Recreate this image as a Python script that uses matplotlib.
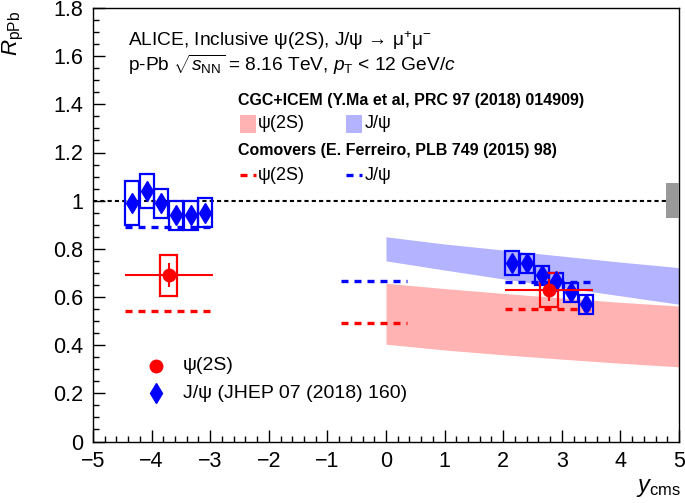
import matplotlib
matplotlib.use("Agg")
import matplotlib.pyplot as plt
from matplotlib.patches import Rectangle
from matplotlib.lines import Line2D
from matplotlib.ticker import MultipleLocator
import numpy as np

plt.rcParams['font.family'] = ['Liberation Sans', 'DejaVu Sans']
plt.rcParams['mathtext.fontset'] = 'custom'
plt.rcParams['mathtext.rm'] = 'Liberation Sans'
plt.rcParams['mathtext.it'] = 'Liberation Sans:italic'
plt.rcParams['mathtext.bf'] = 'Liberation Sans:bold'

# J/psi, backward rapidity (JHEP 07 (2018) 160)
jpsi_y_bwd = [-4.335, -4.085, -3.835, -3.585, -3.335, -3.085]
jpsi_r_bwd = [0.99, 1.04, 0.99, 0.94, 0.94, 0.95]
jpsi_stat_bwd = [0.02, 0.02, 0.02, 0.02, 0.02, 0.02]
jpsi_syst_bwd = [0.09, 0.07, 0.06, 0.06, 0.06, 0.06]

# J/psi, forward rapidity
jpsi_y_fwd = [2.155, 2.405, 2.655, 2.905, 3.155, 3.405]
jpsi_r_fwd = [0.74, 0.74, 0.69, 0.665, 0.62, 0.57]
jpsi_stat_fwd = [0.015, 0.015, 0.015, 0.015, 0.015, 0.015]
jpsi_syst_fwd = [0.05, 0.04, 0.04, 0.035, 0.04, 0.04]

# psi(2S), one bin backward and one forward
psi_y = [-3.71, 2.78]
psi_ylo = [-4.46, 2.03]
psi_yhi = [-2.96, 3.53]
psi_r = [0.69, 0.63]
psi_stat = [0.05, 0.045]
psi_syst = [0.085, 0.07]

# comovers (E. Ferreiro)
com_ylo = [-4.46, -0.76, 2.03]
com_yhi = [-2.96, 0.36, 3.53]
com_jpsi = [0.89, 0.667, 0.664]
com_psi = [0.54, 0.493, 0.55]

# CGC+ICEM bands (Y. Ma et al)
cgc_y = [0, 1, 2, 3, 4, 5]
cgc_jpsi_hi = [0.85, 0.82, 0.795, 0.77, 0.745, 0.722]
cgc_jpsi_lo = [0.75, 0.712, 0.675, 0.64, 0.605, 0.57]
cgc_psi_hi = [0.657, 0.635, 0.615, 0.596, 0.578, 0.5625]
cgc_psi_lo = [0.404, 0.38, 0.36, 0.342, 0.325, 0.31]

global_unc = 0.072

red = '#ff0000'
blue = '#0000ff'
red_band = '#ffb3b3'
blue_band = '#b3b3ff'

W, H = 685, 503
fig = plt.figure(figsize=(W / 100, H / 100), dpi=100)
ax = fig.add_axes([93 / W, 1 - 441.5 / H, 586 / W, 433.5 / H])


def fxy(px, py):
    # reference pixel -> figure fraction
    return px / W, 1 - py / H


# bands
ax.fill_between(cgc_y, cgc_psi_lo, cgc_psi_hi, color=red_band, lw=0, zorder=1)
ax.fill_between(cgc_y, cgc_jpsi_lo, cgc_jpsi_hi, color=blue_band, lw=0, zorder=1)

# unity line and global uncertainty
ax.axhline(1, color='black', lw=1.5, dashes=(2, 1.5), zorder=2)
ax.add_patch(Rectangle((4.78, 1 - global_unc), 0.22, 2 * global_unc,
                       color='#999999', lw=0, zorder=3))

# comovers
dash = (2.1, 1.8)
ax.hlines(com_jpsi, com_ylo, com_yhi, colors=blue, lw=2.4, linestyles=[(0, dash)], zorder=3)
ax.hlines(com_psi, com_ylo, com_yhi, colors=red, lw=2.4, linestyles=[(0, dash)], zorder=3)

# J/psi systematic boxes and points
for ys, rs, ss in [(jpsi_y_bwd, jpsi_r_bwd, jpsi_syst_bwd), (jpsi_y_fwd, jpsi_r_fwd, jpsi_syst_fwd)]:
    for y, r, s in zip(ys, rs, ss):
        ax.add_patch(Rectangle((y - 0.12, r - s), 0.24, 2 * s, fill=False,
                               ec=blue, lw=1.6, zorder=4))
ax.errorbar(jpsi_y_bwd + jpsi_y_fwd, jpsi_r_bwd + jpsi_r_fwd,
            yerr=jpsi_stat_bwd + jpsi_stat_fwd, fmt='d', color=blue, ms=10,
            lw=1.5, capsize=0, zorder=6)

# psi(2S)
for y, r, s in zip(psi_y, psi_r, psi_syst):
    ax.add_patch(Rectangle((y - 0.15, r - s), 0.3, 2 * s, fill=False,
                           ec=red, lw=1.6, zorder=5))
psi_xerr = [np.subtract(psi_y, psi_ylo), np.subtract(psi_yhi, psi_y)]
ax.errorbar(psi_y, psi_r, xerr=psi_xerr, yerr=psi_stat, fmt='o', color=red,
            ms=9, lw=1.5, capsize=0, zorder=7)

# axes
ax.set_xlim(-5, 5)
ax.set_ylim(0, 1.8)
ax.xaxis.set_major_locator(MultipleLocator(1))
ax.xaxis.set_minor_locator(MultipleLocator(0.2))
ax.yaxis.set_major_locator(MultipleLocator(0.2))
ax.yaxis.set_minor_locator(MultipleLocator(0.05))
ax.tick_params(which='both', direction='in', top=False, right=False, labelsize=15.5)
ax.tick_params(which='major', length=8.5, width=1, pad=7)
ax.tick_params(which='minor', length=4.3, width=1)
ax.set_yticks(np.arange(0, 1.81, 0.2))
ax.set_yticklabels(['0', '0.2', '0.4', '0.6', '0.8', '1', '1.2', '1.4', '1.6', '1.8'])
ax.set_xticks(range(-5, 6))
ax.set_xticklabels(['\u22125', '\u22124', '\u22123', '\u22122', '\u22121', '0', '1', '2', '3', '4', '5'])
for sp in ax.spines.values():
    sp.set_linewidth(1)

fig.text(*fxy(13, 11), r'$R_{\rm pPb}$', rotation=90, ha='center', va='top', fontsize=16)
fig.text(*fxy(681, 499), r'$y_{\rm cms}$', ha='right', va='bottom', fontsize=17)

# header texts
fig.text(*fxy(128, 41), 'ALICE, Inclusive \u03c8(2S), J/\u03c8 \u2192 \u03bc$^{+}$\u03bc$^{\u2212}$',
         ha='left', va='center', fontsize=13.8)
fig.text(*fxy(128, 65), r'p-Pb $\sqrt{s_{\rm NN}}$ = 8.16 TeV, $p_{\rm T}$ < 12 GeV/$c$',
         ha='left', va='center', fontsize=13.8)
fig.text(*fxy(238, 100), 'CGC+ICEM (Y.Ma et al, PRC 97 (2018) 014909)',
         ha='left', va='center', fontsize=11.5, fontweight='bold')
fig.text(*fxy(238, 150), 'Comovers (E. Ferreiro, PLB 749 (2015) 98)',
         ha='left', va='center', fontsize=11.5, fontweight='bold')

# legend keys: model bands
for x0, col in [(240, red_band), (346, blue_band)]:
    fig.patches.append(Rectangle(fxy(x0, 133), 16 / W, 18 / H, color=col, lw=0,
                                 transform=fig.transFigure))
for x0, col in [(240, red), (346, blue)]:
    fig.lines.append(Line2D([x0 / W, (x0 + 16) / W], [1 - 175 / H] * 2, color=col,
                            lw=2.4, dashes=dash, transform=fig.transFigure))
for py in (124, 175):
    fig.text(*fxy(258, py), '\u03c8(2S)', ha='left', va='center', fontsize=13)
    fig.text(*fxy(365, py), 'J/\u03c8', ha='left', va='center', fontsize=13)

# legend keys: data
fig.lines.append(Line2D([156 / W], [1 - 366 / H], marker='o', color=red, ms=9,
                        ls='none', transform=fig.transFigure))
fig.lines.append(Line2D([156 / W], [1 - 393 / H], marker='d', color=blue, ms=10,
                        ls='none', transform=fig.transFigure))
fig.text(*fxy(183, 366), '\u03c8(2S)', ha='left', va='center', fontsize=14)
fig.text(*fxy(183, 393), 'J/\u03c8 (JHEP 07 (2018) 160)', ha='left', va='center', fontsize=14)

fig.savefig('out.png', dpi=100)
